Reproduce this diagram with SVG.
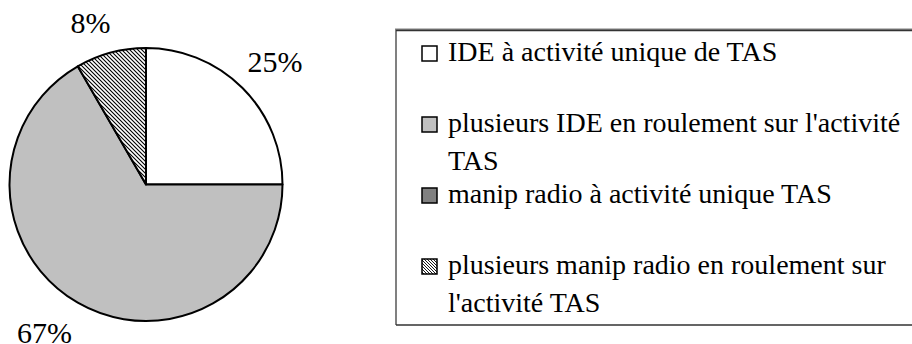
<svg xmlns="http://www.w3.org/2000/svg" width="912" height="344" viewBox="0 0 912 344">
  <defs>
    <pattern id="hatch" patternUnits="userSpaceOnUse" width="4" height="4">
      <rect width="4" height="4" fill="#ffffff"/>
      <path d="M-1,-1 L5,5 M-1,3 L1,5 M3,-1 L5,1" stroke="#000" stroke-width="1.1"/>
    </pattern>
    <pattern id="hatchSmall" patternUnits="userSpaceOnUse" width="3" height="3">
      <rect width="3" height="3" fill="#ffffff"/>
      <path d="M-1,-1 L4,4 M-1,2 L1,4 M2,-1 L4,1" stroke="#000" stroke-width="0.9"/>
    </pattern>
  </defs>
  <style>
    text { font-family: "Liberation Serif", LiberationSerif, "Times New Roman", Times, Tinos, "DejaVu Serif", "Noto Serif", serif; fill: #000; }
    .lbl { font-size: 30px; }
    .leg { font-size: 28px; }
    .slice { stroke: #000; stroke-width: 2; stroke-linejoin: round; }
    .key { stroke: #000; stroke-width: 1.5; }
  </style>
  <rect width="912" height="344" fill="#ffffff"/>

  <!-- pie: 3 / 8 / 1 out of 12, starting at 12 o'clock, clockwise -->
  <g id="pie">
    <path id="slice-ide-unique" class="slice" fill="#ffffff" d="M146,184.5 L146,48 A136.5,136.5 0 0,1 282.5,184.5 Z"/>
    <path id="slice-ide-roulement" class="slice" fill="#c0c0c0" d="M146,184.5 L282.5,184.5 A136.5,136.5 0 1,1 77.75,66.3 Z"/>
    <path id="slice-manip-roulement" class="slice" fill="url(#hatch)" d="M146,184.5 L77.75,66.3 A136.5,136.5 0 0,1 146,48 Z"/>
  </g>

  <!-- percentage labels -->
  <g id="labels">
    <text class="lbl" x="70.5" y="33">8%</text>
    <text class="lbl" x="247.5" y="72">25%</text>
    <text class="lbl" x="17" y="343">67%</text>
  </g>

  <!-- legend -->
  <g id="legend">
    <path d="M396,325 L396,29.5 L914,29.5" fill="none" stroke="#808080" stroke-width="2"/>
    <path d="M396,30.5 L914,30.5 M396,325 L914,325" fill="none" stroke="#333333" stroke-width="1.5"/>

    <g id="key-ide-unique">
      <rect class="key" x="422" y="46" width="15" height="15" fill="#ffffff"/>
      <text class="leg" x="448" y="61">IDE à activité unique de TAS</text>
    </g>
    <g id="key-ide-roulement">
      <rect class="key" x="422" y="117" width="15" height="15" fill="#c0c0c0"/>
      <text class="leg" x="448" y="132">plusieurs IDE en roulement sur l'activité</text>
      <text class="leg" x="448" y="170">TAS</text>
    </g>
    <g id="key-manip-unique">
      <rect class="key" x="422" y="188" width="15" height="15" fill="#808080"/>
      <text class="leg" x="448" y="203">manip radio à activité unique TAS</text>
    </g>
    <g id="key-manip-roulement">
      <rect class="key" x="422" y="259" width="15" height="15" fill="url(#hatchSmall)"/>
      <text class="leg" x="448" y="274">plusieurs manip radio en roulement sur</text>
      <text class="leg" x="448" y="312">l'activité TAS</text>
    </g>
  </g>
</svg>
